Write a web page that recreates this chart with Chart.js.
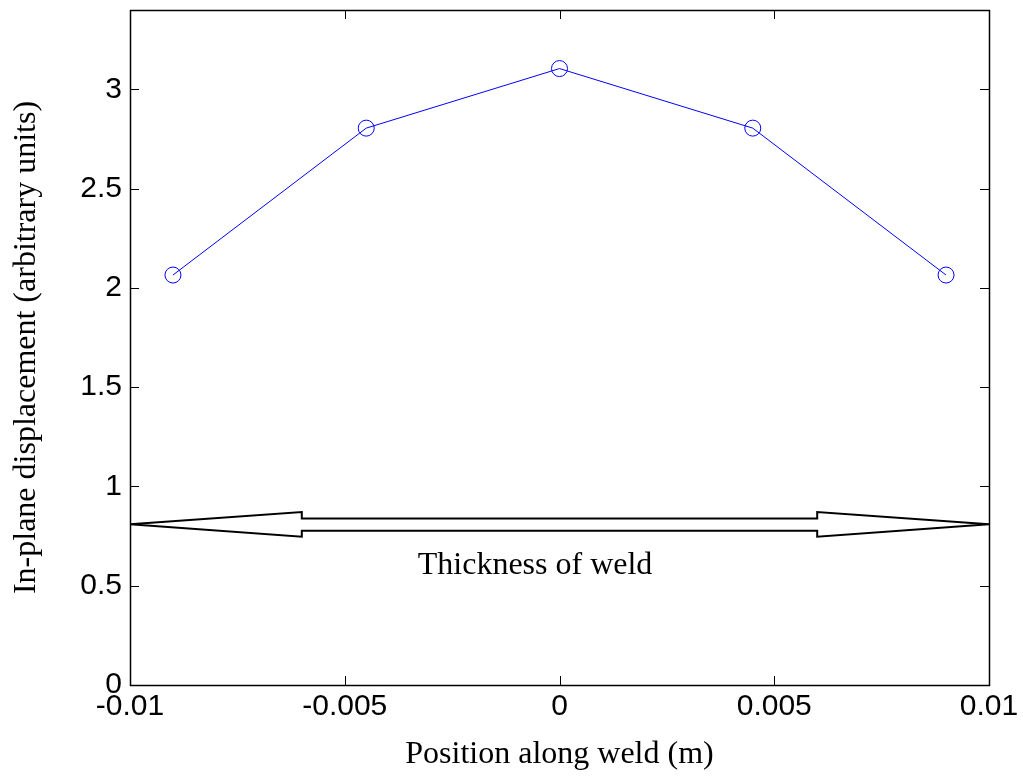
<!DOCTYPE html>
<html>
<head>
<meta charset="utf-8">
<script src="https://cdn.jsdelivr.net/npm/chart.js@4"></script>
<style>
  html, body { margin: 0; padding: 0; background: #fff; }
  #wrap { width: 1023px; height: 778px; }
</style>
</head>
<body>
<div id="wrap"><canvas id="c" width="1023" height="778"></canvas></div>
<script>
// Measured displacement across the weld
const positions = [-0.009, -0.0045, 0, 0.0045, 0.009];
const displacement = [2.065, 2.805, 3.105, 2.805, 2.065];

// Axis ticks
const xTicks = [-0.01, -0.005, 0, 0.005, 0.01];
const xTickLabels = ['-0.01', '-0.005', '0', '0.005', '0.01'];
const yTicks = [0, 0.5, 1, 1.5, 2, 2.5, 3];
const yTickLabels = ['0', '0.5', '1', '1.5', '2', '2.5', '3'];

// Double-headed arrow marking the weld thickness (outline vertices)
const arrowX = [-0.01, -0.006, -0.006, 0.006, 0.006, 0.01, 0.006, 0.006, -0.006, -0.006, -0.01];
const arrowY = [0.81, 0.871, 0.839, 0.839, 0.871, 0.81, 0.747, 0.777, 0.777, 0.747, 0.81];
const arrowLabel = 'Thickness of weld';
const arrowLabelAt = { x: -0.0033, y: 0.6 };

const serif = "'Liberation Serif', 'Times New Roman', serif";
const sans = "'Liberation Sans', Arial, sans-serif";

// Box outline with inward ticks on all four sides
const boxTicks = {
  id: 'boxTicks',
  afterDatasetsDraw(chart) {
    const { ctx, chartArea: a, scales: { x, y } } = chart;
    const len = 9;
    ctx.save();
    ctx.strokeStyle = '#000';
    ctx.lineWidth = 1;
    ctx.beginPath();
    xTicks.forEach(v => {
      const px = Math.round(x.getPixelForValue(v)) + 0.5;
      ctx.moveTo(px, a.bottom); ctx.lineTo(px, a.bottom - len);
      ctx.moveTo(px, a.top); ctx.lineTo(px, a.top + len);
    });
    yTicks.forEach(v => {
      const py = Math.round(y.getPixelForValue(v)) + 0.5;
      ctx.moveTo(a.left, py); ctx.lineTo(a.left + len, py);
      ctx.moveTo(a.right, py); ctx.lineTo(a.right - len, py);
    });
    ctx.stroke();
    ctx.lineWidth = 1.5;
    ctx.strokeRect(Math.round(a.left) + 0.5, Math.round(a.top) + 0.5,
                   Math.round(a.right - a.left), Math.round(a.bottom - a.top));
    // arrow caption
    ctx.fillStyle = '#000';
    ctx.font = '32px ' + serif;
    ctx.textAlign = 'left';
    ctx.textBaseline = 'middle';
    ctx.fillText(arrowLabel, x.getPixelForValue(arrowLabelAt.x), y.getPixelForValue(arrowLabelAt.y));
    ctx.restore();
  }
};

new Chart(document.getElementById('c'), {
  type: 'scatter',
  data: {
    datasets: [
      {
        data: arrowX.map((v, i) => ({ x: v, y: arrowY[i] })),
        showLine: true,
        borderColor: '#000',
        borderWidth: 2,
        pointRadius: 0,
        fill: false,
        clip: false,
        order: 2
      },
      {
        data: positions.map((v, i) => ({ x: v, y: displacement[i] })),
        showLine: true,
        borderColor: '#0000ff',
        borderWidth: 1,
        pointStyle: 'circle',
        pointRadius: 8,
        pointBorderWidth: 1,
        pointBorderColor: '#0000ff',
        pointBackgroundColor: 'rgba(0,0,0,0)',
        order: 1
      }
    ]
  },
  options: {
    responsive: false,
    animation: false,
    events: [],
    layout: { padding: { top: 10, right: 34, left: 0, bottom: 0 } },
    plugins: { legend: { display: false }, tooltip: { enabled: false } },
    scales: {
      x: {
        type: 'linear',
        min: -0.01,
        max: 0.01,
        afterBuildTicks: s => { s.ticks = xTicks.map(v => ({ value: v })); },
        afterFit: s => { s.height = 93; s.paddingLeft = 0; s.paddingRight = 0; },
        grid: { display: false, drawTicks: false },
        border: { display: false },
        ticks: {
          color: '#000',
          font: { family: sans, size: 30 },
          padding: 4,
          maxRotation: 0,
          autoSkip: false,
          callback: (v, i) => xTickLabels[i]
        },
        title: {
          display: true,
          text: 'Position along weld (m)',
          color: '#000',
          font: { family: serif, size: 32 },
          padding: { top: 0, bottom: 4 }
        }
      },
      y: {
        type: 'linear',
        min: 0,
        max: 3.4,
        afterBuildTicks: s => { s.ticks = yTicks.map(v => ({ value: v })); },
        afterFit: s => { s.width = 130; s.paddingTop = 0; s.paddingBottom = 0; },
        grid: { display: false, drawTicks: false },
        border: { display: false },
        ticks: {
          color: '#000',
          font: { family: sans, size: 30 },
          padding: 8,
          autoSkip: false,
          callback: (v, i) => yTickLabels[i]
        },
        title: {
          display: true,
          text: 'In-plane displacement (arbitrary units)',
          color: '#000',
          font: { family: serif, size: 32 },
          padding: { top: 7, bottom: 0 }
        }
      }
    }
  },
  plugins: [boxTicks]
});
</script>
</body>
</html>
